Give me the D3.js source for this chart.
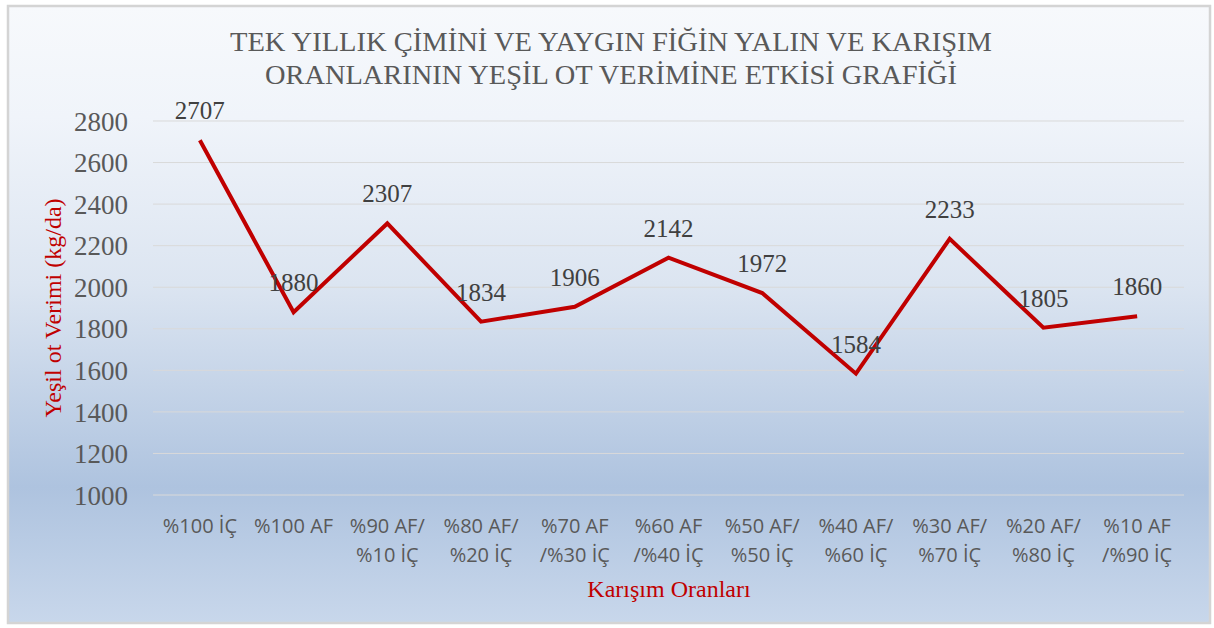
<!DOCTYPE html>
<html><head><meta charset="utf-8">
<script src="https://cdn.jsdelivr.net/npm/d3@7"></script>
<style>html,body{margin:0;padding:0;background:#fff;}</style>
</head><body>
<svg id="chart" width="1214" height="628"></svg>
<script>
const categories = [
  ["%100 İÇ"], ["%100 AF"], ["%90 AF/", "%10 İÇ"], ["%80 AF/", "%20 İÇ"],
  ["%70 AF", "/%30 İÇ"], ["%60 AF", "/%40 İÇ"], ["%50 AF/", "%50 İÇ"],
  ["%40 AF/", "%60 İÇ"], ["%30 AF/", "%70 İÇ"], ["%20 AF/", "%80 İÇ"], ["%10 AF", "/%90 İÇ"]
];
const values = [2707, 1880, 2307, 1834, 1906, 2142, 1972, 1584, 2233, 1805, 1860];
const yTicks = [1000, 1200, 1400, 1600, 1800, 2000, 2200, 2400, 2600, 2800];
const titleLines = ["TEK YILLIK ÇİMİNİ VE YAYGIN FİĞİN YALIN VE KARIŞIM", "ORANLARININ YEŞİL OT VERİMİNE ETKİSİ GRAFİĞİ"];
const xTitle = "Karışım Oranları";
const yTitle = "Yeşil ot Verimi (kg/da)";

(function(){
const svg = d3.select("#chart");
const defs = svg.append("defs");
const g = defs.append("linearGradient").attr("id","bg").attr("x1",0).attr("y1",0).attr("x2",0).attr("y2",1);
[[0,"#f7f9fc"],[0.18,"#f0f4fa"],[0.45,"#dce5f1"],[0.78,"#aec3df"],[1,"#c8d7eb"]].forEach(([o,c])=>g.append("stop").attr("offset",o).attr("stop-color",c));

svg.append("rect").attr("x",8).attr("y",6).attr("width",1202).attr("height",617)
  .attr("fill","url(#bg)").attr("stroke","#d4d4d4").attr("stroke-width",2.5);

const mLeft = 153, mRight = 1184, mTop = 121, mBottom = 495;
const x = d3.scaleBand().domain(d3.range(categories.length)).range([mLeft, mRight]);
const y = d3.scaleLinear().domain([1000, 2800]).range([mBottom, mTop]);

svg.append("g").selectAll("line").data(yTicks).join("line")
  .attr("x1", mLeft).attr("x2", mRight)
  .attr("y1", d => y(d)).attr("y2", d => y(d))
  .attr("stroke", "#d9d9d9").attr("stroke-width", 1);

const yAxis = svg.append("g").attr("transform", `translate(${mLeft-25},0)`)
  .call(d3.axisLeft(y).tickValues(yTicks).tickSize(0).tickPadding(0).tickFormat(d3.format("d")));
yAxis.select(".domain").remove();
yAxis.selectAll("text").attr("font-family","Liberation Serif, serif").attr("font-size",27)
  .attr("fill","#595959").attr("dy","0.34em");

const xAxis = svg.append("g").attr("transform", `translate(0,${mBottom})`)
  .call(d3.axisBottom(x).tickSize(0).tickFormat(""));
xAxis.select(".domain").remove();
xAxis.selectAll(".tick").each(function(d){
  const t = d3.select(this).append("text").attr("font-family","Open Sans, sans-serif")
    .attr("font-size",20).attr("fill","#595959").attr("text-anchor","middle");
  categories[d].forEach((s,i)=> t.append("tspan").attr("x",0).attr("y",38 + i*29).text(s));
});

const line = d3.line().x((d,i)=> x(i)+x.bandwidth()/2).y(d=>y(d));
svg.append("path").datum(values).attr("d", line).attr("fill","none")
  .attr("stroke","#c00000").attr("stroke-width",4).attr("stroke-linejoin","miter");

svg.append("g").selectAll("text").data(values).join("text")
  .attr("x",(d,i)=> x(i)+x.bandwidth()/2).attr("y", d=> y(d)-21)
  .attr("text-anchor","middle").attr("font-family","Liberation Serif, serif")
  .attr("font-size",25).attr("fill","#404040").text(d=>d);

svg.append("g").selectAll("text").data(titleLines).join("text")
  .attr("x",611).attr("y",(d,i)=> 51 + i*33).attr("text-anchor","middle")
  .attr("font-family","Liberation Serif, serif").attr("font-size",28).attr("fill","#595959")
  .attr("textLength",(d,i)=> i===0 ? 762 : 692).attr("lengthAdjust","spacingAndGlyphs")
  .text(d=>d);

svg.append("text").attr("x",669).attr("y",597).attr("text-anchor","middle")
  .attr("font-family","Liberation Serif, serif").attr("font-size",24).attr("fill","#c00000").text(xTitle);
svg.append("text").attr("transform","translate(61,308) rotate(-90)").attr("text-anchor","middle")
  .attr("font-family","Liberation Serif, serif").attr("font-size",24).attr("fill","#c00000").text(yTitle);
})();
</script>
</body></html>
